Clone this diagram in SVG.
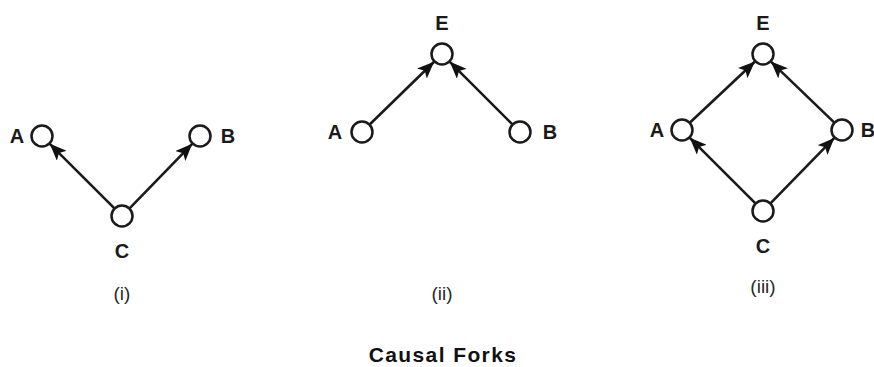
<svg xmlns="http://www.w3.org/2000/svg" width="874" height="367" viewBox="0 0 874 367">
  <defs>
    <marker id="arrow" markerUnits="userSpaceOnUse" markerWidth="18" markerHeight="14" refX="17" refY="7" orient="auto">
      <path d="M0,0 L17,7 L0,14 L4,7 z" fill="#111"/>
    </marker>
    <style>
      .node circle { fill: #fff; stroke: #1a1a1a; stroke-width: 2.5; }
      .lbl { font-family: "Liberation Sans", Arial, sans-serif; font-weight: bold; font-size: 20px; fill: #1a1a1a; text-anchor: middle; }
      .cap { font-family: "Liberation Sans", Arial, sans-serif; font-size: 19px; fill: #2a2a2a; text-anchor: middle; }
      .title { font-family: "Liberation Sans", Arial, sans-serif; font-weight: bold; font-size: 21px; fill: #111; text-anchor: middle; letter-spacing: 1.4px; }
      .edge { stroke: #1a1a1a; stroke-width: 2.6; fill: none; marker-end: url(#arrow); }
    </style>
  </defs>

  <rect width="874" height="367" fill="#fff"/>

  <!-- connectors -->
  <g id="connectors">
    <!-- (i) -->
    <line class="edge" x1="114.2" y1="208.2" x2="49.8" y2="143.8"/>
    <line class="edge" x1="129.8" y1="208.2" x2="192.2" y2="143.8"/>
    <!-- (ii) -->
    <line class="edge" x1="369.9" y1="124.3" x2="434.1" y2="61.7"/>
    <line class="edge" x1="512.2" y1="124.2" x2="449.8" y2="61.8"/>
    <!-- (iii) -->
    <line class="edge" x1="690" y1="122.5" x2="755" y2="61.5"/>
    <line class="edge" x1="834.1" y1="122.4" x2="770.9" y2="61.6"/>
    <line class="edge" x1="755.2" y1="203.2" x2="689.8" y2="137.8"/>
    <line class="edge" x1="770.7" y1="203.1" x2="834.3" y2="137.9"/>
  </g>

  <!-- fork (i) -->
  <g id="i-A" class="node"><circle cx="42" cy="136" r="10.5"/><text class="lbl" x="17" y="143">A</text></g>
  <g id="i-B" class="node"><circle cx="200" cy="136" r="10.5"/><text class="lbl" x="228" y="143">B</text></g>
  <g id="i-C" class="node"><circle cx="122" cy="216" r="10.5"/><text class="lbl" x="122" y="258">C</text></g>
  <text class="cap" x="122" y="300">(i)</text>

  <!-- fork (ii) -->
  <g id="ii-E" class="node"><circle cx="442" cy="54" r="10.5"/><text class="lbl" x="442" y="30">E</text></g>
  <g id="ii-A" class="node"><circle cx="362" cy="132" r="10.5"/><text class="lbl" x="335" y="139">A</text></g>
  <g id="ii-B" class="node"><circle cx="520" cy="132" r="10.5"/><text class="lbl" x="550" y="139">B</text></g>
  <text class="cap" x="442" y="300">(ii)</text>

  <!-- fork (iii) -->
  <g id="iii-E" class="node"><circle cx="763" cy="54" r="10.5"/><text class="lbl" x="763" y="30">E</text></g>
  <g id="iii-A" class="node"><circle cx="682" cy="130" r="10.5"/><text class="lbl" x="657" y="137">A</text></g>
  <g id="iii-B" class="node"><circle cx="842" cy="130" r="10.5"/><text class="lbl" x="868" y="137">B</text></g>
  <g id="iii-C" class="node"><circle cx="763" cy="211" r="10.5"/><text class="lbl" x="763" y="253">C</text></g>
  <text class="cap" x="763" y="293">(iii)</text>

  <text class="title" x="443" y="362">Causal Forks</text>
</svg>
